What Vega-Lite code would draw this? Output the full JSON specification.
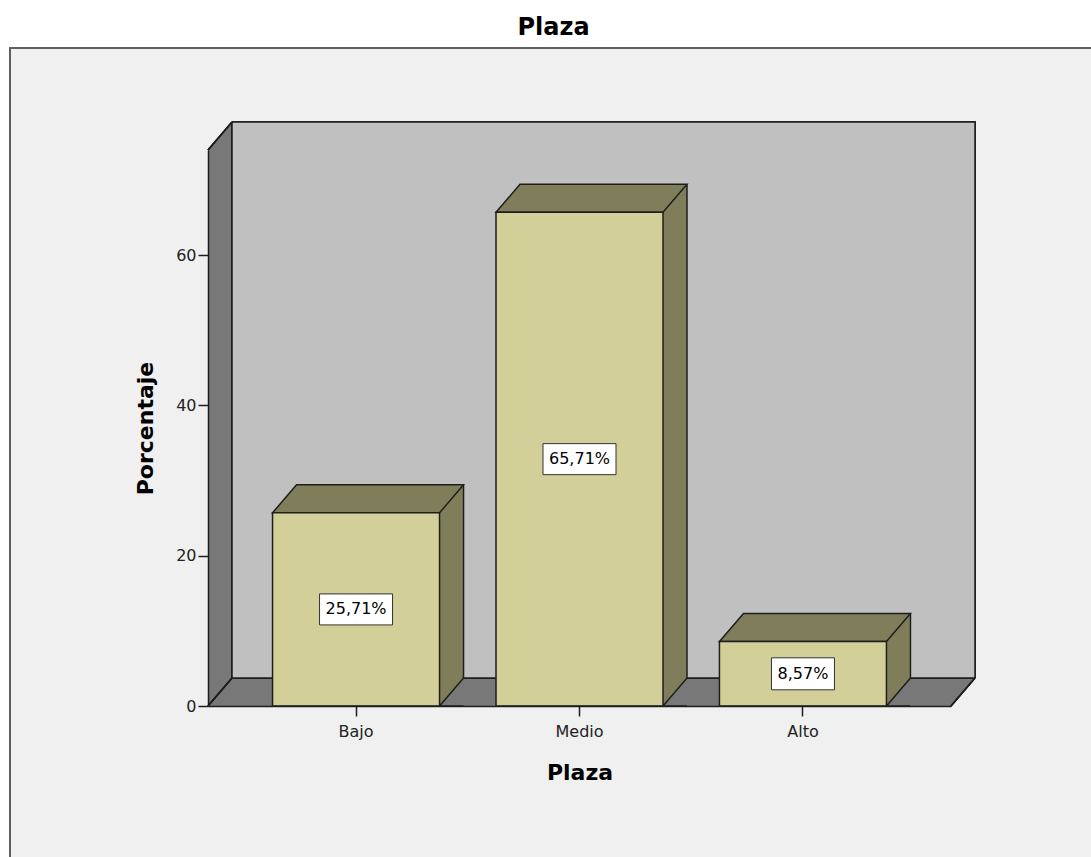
{
  "$schema": "https://vega.github.io/schema/vega-lite/v6.json",
  "autosize": {"type": "none"},
  "padding": {"left": 208, "top": 150, "right": 140, "bottom": 151},
  "width": 743,
  "height": 556,
  "background": "white",
  "title": {
    "text": "Plaza",
    "font": "DejaVu Sans",
    "fontSize": 24,
    "fontWeight": "bold",
    "color": "black",
    "anchor": "middle",
    "frame": "group",
    "dx": -26,
    "offset": 7
  },
  "data": {
    "values": [
      {"cat": "Bajo", "pct": 25.71},
      {"cat": "Medio", "pct": 65.71},
      {"cat": "Alto", "pct": 8.57}
    ]
  },
  "layer": [
    {
      "layer": [
        {
          "mark": {"type": "rect", "fill": "#f0f0f0", "stroke": "#5f5f5f", "strokeWidth": 2},
          "encoding": {
            "x": {"value": -198},
            "x2": {"value": 1000},
            "y": {"value": -102},
            "y2": {"value": 800}
          }
        },
        {
          "mark": {"type": "rect", "fill": "#787878", "x2Offset": 24, "yOffset": -28},
          "encoding": {
            "x": {"value": 0},
            "x2": {"value": 0},
            "y": {
              "datum": 74,
              "type": "quantitative",
              "scale": {"domain": [0, 74], "nice": false, "zero": true},
              "title": "Porcentaje",
              "axis": {
                "values": [0, 20, 40, 60],
                "grid": false,
                "tickSize": 10,
                "tickWidth": 1.5,
                "tickColor": "#1e1e1e",
                "domainColor": "#1e1e1e",
                "domainWidth": 1.5,
                "labelFont": "DejaVu Sans",
                "labelFontSize": 16,
                "labelColor": "#222222",
                "labelPadding": 2,
                "titleFont": "DejaVu Sans",
                "titleFontSize": 22,
                "titleFontWeight": "bold",
                "titleColor": "black",
                "titlePadding": 18,
                "zindex": 1
              }
            },
            "y2": {"datum": 0}
          }
        },
        {
          "mark": {"type": "rect", "fill": "#787878", "x2Offset": 24, "yOffset": -28},
          "encoding": {
            "x": {"value": 0},
            "x2": {"value": "width"},
            "y": {"datum": 0, "type": "quantitative", "title": "Porcentaje"},
            "y2": {"datum": 0}
          }
        },
        {
          "mark": {
            "type": "rect",
            "fill": "#c0c0c0",
            "stroke": "#1e1e1e",
            "strokeWidth": 1.5,
            "xOffset": 24,
            "x2Offset": 24,
            "yOffset": -28,
            "y2Offset": -28
          },
          "encoding": {
            "x": {"value": 0},
            "x2": {"value": "width"},
            "y": {"datum": 74, "type": "quantitative", "title": "Porcentaje"},
            "y2": {"datum": 0}
          }
        },
        {
          "mark": {
            "type": "point",
            "shape": "M 0 0 L 24 -28 L 24 -31 L -1 -31 L -1 0 Z",
            "size": 4,
            "filled": true,
            "fill": "#f0f0f0",
            "strokeWidth": 0,
            "opacity": 1
          },
          "encoding": {
            "x": {"value": 0},
            "y": {"datum": 74, "type": "quantitative", "title": "Porcentaje"}
          }
        },
        {
          "mark": {"type": "rule", "stroke": "#1e1e1e", "strokeWidth": 1.5, "x2Offset": 24, "y2Offset": -28},
          "encoding": {
            "x": {"value": 0},
            "x2": {"value": 0},
            "y": {"datum": 74, "type": "quantitative", "title": "Porcentaje"},
            "y2": {"datum": 74}
          }
        },
        {
          "mark": {"type": "rule", "stroke": "#1e1e1e", "strokeWidth": 1.5, "x2Offset": 24, "y2Offset": -28},
          "encoding": {
            "x": {"value": 0},
            "x2": {"value": 0},
            "y": {"datum": 0, "type": "quantitative", "title": "Porcentaje"},
            "y2": {"datum": 0}
          }
        },
        {
          "mark": {
            "type": "point",
            "shape": "M 0 0 L 24 -28 L 27 -28 L 27 2 L 0 2 Z",
            "size": 4,
            "filled": true,
            "fill": "#f0f0f0",
            "strokeWidth": 0,
            "opacity": 1
          },
          "encoding": {
            "x": {"value": "width"},
            "y": {"datum": 0, "type": "quantitative", "title": "Porcentaje"}
          }
        },
        {
          "mark": {"type": "rule", "stroke": "#1e1e1e", "strokeWidth": 1.5, "x2Offset": 24, "y2Offset": -28},
          "encoding": {
            "x": {"value": "width"},
            "x2": {"value": "width"},
            "y": {"datum": 0, "type": "quantitative", "title": "Porcentaje"},
            "y2": {"datum": 0}
          }
        },
        {
          "mark": {"type": "bar", "width": 24, "xOffset": 95.5, "yOffset": -28, "fill": "#807e5a", "strokeWidth": 0},
          "encoding": {
            "x": {
              "field": "cat",
              "type": "nominal",
              "sort": ["Bajo", "Medio", "Alto"],
              "title": "Plaza",
              "scale": {"paddingInner": 0.253, "paddingOuter": 0.289, "round": false},
              "axis": {
                "labelAngle": 0,
                "tickSize": 10,
                "tickWidth": 1.5,
                "tickColor": "#1e1e1e",
                "domainColor": "#1e1e1e",
                "domainWidth": 1.5,
                "labelFont": "DejaVu Sans",
                "labelFontSize": 16,
                "labelColor": "#222222",
                "labelPadding": 7,
                "titleFont": "DejaVu Sans",
                "titleFontSize": 22,
                "titleFontWeight": "bold",
                "titleColor": "black",
                "titlePadding": 23,
                "zindex": 1
              }
            },
            "y": {"field": "pct", "type": "quantitative", "title": "Porcentaje"},
            "y2": {"datum": 0}
          }
        },
        {
          "mark": {
            "type": "point",
            "shape": "M 107.5 0 L 83.5 0 L 107.5 -28",
            "size": 4,
            "filled": true,
            "fill": "#787878",
            "stroke": "#1e1e1e",
            "strokeWidth": 1.5,
            "opacity": 1
          },
          "encoding": {
            "x": {"field": "cat", "type": "nominal", "sort": ["Bajo", "Medio", "Alto"], "title": "Plaza"},
            "y": {"datum": 0, "type": "quantitative", "title": "Porcentaje"}
          }
        },
        {
          "mark": {"type": "rule", "stroke": "#1e1e1e", "strokeWidth": 1.5, "xOffset": 107.5, "yOffset": -28, "y2Offset": -28},
          "encoding": {
            "x": {"field": "cat", "type": "nominal", "sort": ["Bajo", "Medio", "Alto"], "title": "Plaza"},
            "y": {"field": "pct", "type": "quantitative", "title": "Porcentaje"},
            "y2": {"datum": 0}
          }
        },
        {
          "mark": {
            "type": "point",
            "shape": "M -83.5 0 L 83.5 0 L 107.5 -28 L -59.5 -28 Z",
            "size": 4,
            "filled": true,
            "fill": "#807e5a",
            "stroke": "#1e1e1e",
            "strokeWidth": 1.5,
            "opacity": 1
          },
          "encoding": {
            "x": {"field": "cat", "type": "nominal", "sort": ["Bajo", "Medio", "Alto"], "title": "Plaza"},
            "y": {"field": "pct", "type": "quantitative", "title": "Porcentaje"}
          }
        },
        {
          "mark": {"type": "bar", "width": 167, "fill": "#d3cf98", "stroke": "#1e1e1e", "strokeWidth": 1.5},
          "encoding": {
            "x": {"field": "cat", "type": "nominal", "sort": ["Bajo", "Medio", "Alto"], "title": "Plaza"},
            "y": {"field": "pct", "type": "quantitative", "title": "Porcentaje"}
          }
        }
      ]
    },
    {
      "encoding": {
        "x": {"field": "cat", "type": "nominal", "sort": ["Bajo", "Medio", "Alto"], "title": "Plaza"},
        "y": {
          "field": "pct",
          "type": "quantitative",
          "scale": {"domain": [0, 148], "nice": false, "zero": true},
          "axis": null
        }
      },
      "layer": [
        {
          "mark": {"type": "point", "size": 4, "filled": true, "fill": "white", "stroke": "#333333", "strokeWidth": 1, "opacity": 1},
          "encoding": {
            "shape": {
              "field": "cat",
              "type": "nominal",
              "legend": null,
              "scale": {
                "domain": ["Bajo", "Medio", "Alto"],
                "range": [
                  "M -36.5 -15.5 L 36.5 -15.5 L 36.5 15.5 L -36.5 15.5 Z",
                  "M -36.5 -15.5 L 36.5 -15.5 L 36.5 15.5 L -36.5 15.5 Z",
                  "M -31.5 -16 L 31.5 -16 L 31.5 16 L -31.5 16 Z"
                ]
              }
            }
          }
        },
        {
          "mark": {"type": "text", "font": "DejaVu Sans", "fontSize": 16, "color": "black", "align": "center", "baseline": "middle"},
          "encoding": {
            "text": {"field": "pct", "type": "quantitative", "format": "$.2f"}
          }
        }
      ]
    }
  ],
  "resolve": {"scale": {"y": "independent"}},
  "config": {
    "view": {"stroke": null},
    "locale": {
      "number": {"decimal": ",", "thousands": ".", "grouping": [3], "currency": ["", "%"]}
    }
  }
}
